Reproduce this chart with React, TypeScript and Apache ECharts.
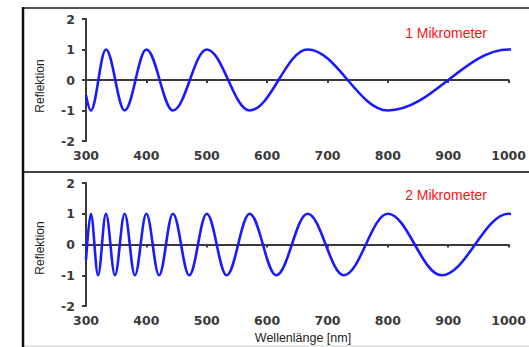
import React, { useEffect, useRef } from "react";
import * as echarts from "echarts";

// Extrema (wavelength nm, reflection);
// the last point continues the curve just past the right edge (clipped)
const topCurve: [number, number][] = [
  [300, -0.5], [308, -1], [333, 1], [364, -1], [400, 1], [444, -1],
  [500, 1], [571, -1], [667, 1], [800, -1], [1000, 1], [1010, 0.99],
];
const bottomCurve: [number, number][] = [
  [300, -0.5], [308, 1], [320, -1], [333, 1], [348, -1], [364, 1],
  [381, -1], [400, 1], [421, -1], [444, 1], [471, -1], [500, 1],
  [533, -1], [571, 1], [615, -1], [667, 1], [727, -1], [800, 1],
  [889, -1], [1000, 1], [1010, 0.97],
];
const panelLabels = ["1 Mikrometer", "2 Mikrometer"];
const yTitle = "Reflektion";
const xTitle = "Wellenlänge [nm]";

export default function App() {
  const ref = useRef<HTMLDivElement>(null);
  useEffect(() => {
    if (!ref.current) return;
    const chart = echarts.init(ref.current, undefined, { renderer: "svg" });
    const axisColor = "#3a3a3a";
    const labelStyle = {
      color: "#3a3a3a",
      fontFamily: "DejaVu Sans",
      fontWeight: "bold" as const,
      fontSize: 12.5,
      formatter: (v: number) => String(v),
    };
    const mkX = (gi: number) => ({
      type: "value" as const,
      gridIndex: gi,
      min: 300,
      max: 1000,
      interval: 100,
      axisLine: { show: true, lineStyle: { color: axisColor, width: 2 } },
      axisTick: { show: true, length: 3, lineStyle: { color: axisColor, width: 2 } },
      axisLabel: { ...labelStyle, margin: 8 },
      splitLine: { show: false },
    });
    const mkY = (gi: number) => ({
      type: "value" as const,
      gridIndex: gi,
      min: -2,
      max: 2,
      interval: 1,
      axisLine: { show: true, lineStyle: { color: axisColor, width: 2 } },
      axisTick: { show: true, length: 4, lineStyle: { color: axisColor, width: 2 } },
      axisLabel: { ...labelStyle, margin: 11 },
      splitLine: { show: false },
    });
    const lineSeries = (gi: number, data: [number, number][]) => ({
      type: "line" as const,
      xAxisIndex: gi,
      yAxisIndex: gi,
      data,
      smooth: 0.36,
      smoothMonotone: "x" as const,
      showSymbol: false,
      clip: true,
      lineStyle: { color: "#1a1aff", width: 2.6 },
    });
    chart.setOption({
      animation: false,
      backgroundColor: "#ffffff",
      grid: [
        { left: 86, top: 19, width: 423, height: 122 },
        { left: 86, top: 183, width: 423, height: 123 },
      ],
      xAxis: [mkX(0), mkX(1)],
      yAxis: [mkY(0), mkY(1)],
      series: [lineSeries(0, topCurve), lineSeries(1, bottomCurve)],
      graphic: [
        { type: "line", shape: { x1: 22, y1: 8, x2: 529, y2: 8 }, style: { stroke: "#555", lineWidth: 2 } },
        { type: "line", shape: { x1: 22, y1: 172, x2: 529, y2: 172 }, style: { stroke: "#444", lineWidth: 2 } },
        { type: "line", shape: { x1: 22, y1: 346, x2: 529, y2: 346 }, style: { stroke: "#ccc", lineWidth: 1 } },
        { type: "line", shape: { x1: 23, y1: 7, x2: 23, y2: 347 }, style: { stroke: "#111", lineWidth: 2.5 } },
        {
          type: "text", x: 40, y: 86, rotation: Math.PI / 2,
          style: { text: yTitle, fill: "#222", font: "12px 'Liberation Sans', Arial", align: "center", verticalAlign: "middle" },
        },
        {
          type: "text", x: 40, y: 248, rotation: Math.PI / 2,
          style: { text: yTitle, fill: "#222", font: "12px 'Liberation Sans', Arial", align: "center", verticalAlign: "middle" },
        },
        {
          type: "text", x: 303, y: 338,
          style: { text: xTitle, fill: "#222", font: "12.5px 'Liberation Sans', Arial", align: "center", verticalAlign: "middle" },
        },
        {
          type: "text", x: 446, y: 33,
          style: { text: panelLabels[0], fill: "#ff1010", font: "14px 'Liberation Sans', Arial", align: "center", verticalAlign: "middle" },
        },
        {
          type: "text", x: 446, y: 195,
          style: { text: panelLabels[1], fill: "#ff1010", font: "14px 'Liberation Sans', Arial", align: "center", verticalAlign: "middle" },
        },
      ],
    });
    return () => chart.dispose();
  }, []);
  return (
    <div
      ref={ref}
      style={{ position: "fixed", left: 0, top: 0, width: 529, height: 347 }}
    />
  );
}
